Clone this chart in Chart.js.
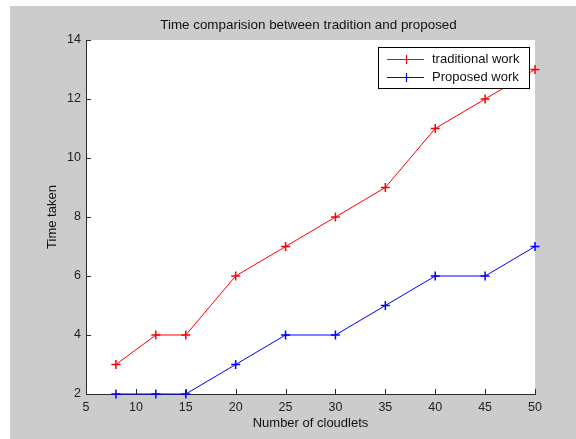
<!DOCTYPE html>
<html>
<head>
<meta charset="utf-8">
<script src="https://cdn.jsdelivr.net/npm/chart.js@4.4.6/dist/chart.umd.min.js"></script>
<style>
  html, body { margin: 0; padding: 0; background: #ffffff; }
  #wrap { position: relative; width: 576px; height: 439px; }
</style>
</head>
<body>
<div id="wrap"><canvas id="cloudlets-time-chart" width="576" height="439"></canvas></div>
<script>
const chartTitle = 'Time comparision between tradition and proposed'
const cloudlets = [8, 12, 15, 20, 25, 30, 35, 40, 45, 50]
const traditionalWork = [3, 4, 4, 6, 7, 8, 9, 11, 12, 13]
const proposedWork = [2, 2, 2, 3, 4, 4, 5, 6, 6, 7]
const xTicks = [5, 10, 15, 20, 25, 30, 35, 40, 45, 50]
const yTicks = [2, 4, 6, 8, 10, 12, 14]
const seriesColors = ['#ff0000', '#0000ff']

const FONT = '"Liberation Sans", Arial, Helvetica, sans-serif'
const AXIS_COLOR = '#2b2b2b'

const toPoints = (values) => cloudlets.map((x, i) => ({ x, y: values[i] }))

// gray figure background + white axes box, like a matlab figure
const figureBackground = {
  id: 'figureBackground',
  beforeDraw(chart) {
    const { ctx, chartArea } = chart
    ctx.save()
    ctx.fillStyle = '#cccccc'
    ctx.fillRect(10, 6, chart.width - 10, chart.height - 6)
    ctx.fillStyle = '#ffffff'
    ctx.fillRect(chartArea.left, chartArea.top, chartArea.right - chartArea.left, chartArea.bottom - chartArea.top)
    ctx.restore()
  }
}

// title centred over the axes box
const axesTitle = {
  id: 'axesTitle',
  afterDraw(chart) {
    const { ctx, chartArea } = chart
    ctx.save()
    ctx.font = '13.4px ' + FONT
    ctx.fillStyle = '#111111'
    ctx.textAlign = 'center'
    ctx.textBaseline = 'middle'
    ctx.fillText(chartTitle, (chartArea.left + chartArea.right) / 2 - 2, 25)
    ctx.restore()
  }
}

// matlab draws its ticks pointing into the axes
const inwardTicks = {
  id: 'inwardTicks',
  beforeDatasetsDraw(chart) {
    const { ctx, chartArea, scales } = chart
    const len = 5
    ctx.save()
    ctx.strokeStyle = AXIS_COLOR
    ctx.lineWidth = 1
    ctx.beginPath()
    scales.x.ticks.forEach((t) => {
      const px = Math.round(scales.x.getPixelForValue(t.value)) + 0.5
      ctx.moveTo(px, chartArea.bottom)
      ctx.lineTo(px, chartArea.bottom - len)
    })
    scales.y.ticks.forEach((t) => {
      const py = Math.round(scales.y.getPixelForValue(t.value)) + 0.5
      ctx.moveTo(chartArea.left, py)
      ctx.lineTo(chartArea.left + len, py)
    })
    ctx.stroke()
    ctx.restore()
  }
}

// boxed legend with line + marker samples
const boxedLegend = {
  id: 'boxedLegend',
  afterDraw(chart) {
    const { ctx, chartArea } = chart
    const boxRight = chartArea.right - 6
    const boxLeft = boxRight - 151
    const boxTop = chartArea.top + 7
    const rowH = 18
    const sets = chart.data.datasets
    const boxH = sets.length * rowH + 5

    ctx.save()
    ctx.fillStyle = '#ffffff'
    ctx.fillRect(boxLeft, boxTop, boxRight - boxLeft, boxH)
    ctx.strokeStyle = '#000000'
    ctx.lineWidth = 1
    ctx.strokeRect(boxLeft + 0.5, boxTop + 0.5, boxRight - boxLeft, boxH)

    ctx.font = '13px ' + FONT
    ctx.textBaseline = 'middle'
    sets.forEach((ds, i) => {
      const y = Math.round(boxTop + 12 + i * rowH) + 0.5
      const x0 = boxLeft + 9
      const x1 = boxLeft + 46
      const mid = Math.round((x0 + x1) / 2) + 0.5
      ctx.strokeStyle = seriesColors[i]
      ctx.lineWidth = 1.2
      ctx.beginPath()
      ctx.moveTo(x0, y)
      ctx.lineTo(x1, y)
      ctx.moveTo(mid, y - 4.5)
      ctx.lineTo(mid, y + 4.5)
      ctx.stroke()
      ctx.fillStyle = '#111111'
      ctx.fillText(ds.label, boxLeft + 54, y)
    })
    ctx.restore()
  }
}

const config = {
  type: 'line',
  data: {
    datasets: [
      {
        label: 'traditional work',
        data: toPoints(traditionalWork),
        borderColor: seriesColors[0],
        backgroundColor: seriesColors[0],
        borderWidth: 1,
        pointStyle: 'cross',
        pointRadius: 4.5,
        pointBorderWidth: 1.5,
        tension: 0,
        clip: false
      },
      {
        label: 'Proposed work',
        data: toPoints(proposedWork),
        borderColor: seriesColors[1],
        backgroundColor: seriesColors[1],
        borderWidth: 1,
        pointStyle: 'cross',
        pointRadius: 4.5,
        pointBorderWidth: 1.5,
        tension: 0,
        clip: false
      }
    ]
  },
  options: {
    responsive: false,
    animation: false,
    layout: { padding: { top: 40, right: 41, left: 0, bottom: 0 } },
    plugins: {
      legend: { display: false },
      title: { display: false },
      tooltip: { enabled: false }
    },
    scales: {
      x: {
        type: 'linear',
        min: xTicks[0],
        max: xTicks[xTicks.length - 1],
        afterFit(scale) { scale.height = 45 },
        afterBuildTicks(scale) { scale.ticks = xTicks.map((v) => ({ value: v })) },
        grid: { display: false, drawTicks: false },
        border: { display: true, color: AXIS_COLOR, width: 1 },
        ticks: {
          color: '#222222',
          font: { family: FONT, size: 12.5 },
          padding: 6,
          maxRotation: 0,
          autoSkip: false
        },
        title: {
          display: true,
          text: 'Number of cloudlets',
          color: '#111111',
          font: { family: FONT, size: 13 },
          padding: { top: 0, bottom: 8 }
        }
      },
      y: {
        type: 'linear',
        min: yTicks[0],
        max: yTicks[yTicks.length - 1],
        afterFit(scale) { scale.width = 86 },
        afterBuildTicks(scale) { scale.ticks = yTicks.map((v) => ({ value: v })) },
        grid: { display: false, drawTicks: false },
        border: { display: true, color: AXIS_COLOR, width: 1 },
        ticks: {
          color: '#222222',
          font: { family: FONT, size: 12.5 },
          padding: 5,
          autoSkip: false
        },
        title: {
          display: true,
          text: 'Time taken',
          color: '#111111',
          font: { family: FONT, size: 13 },
          padding: { top: 45, bottom: 0 }
        }
      }
    }
  },
  plugins: [figureBackground, inwardTicks, axesTitle, boxedLegend]
}

new Chart(document.getElementById('cloudlets-time-chart'), config)
</script>
</body>
</html>
